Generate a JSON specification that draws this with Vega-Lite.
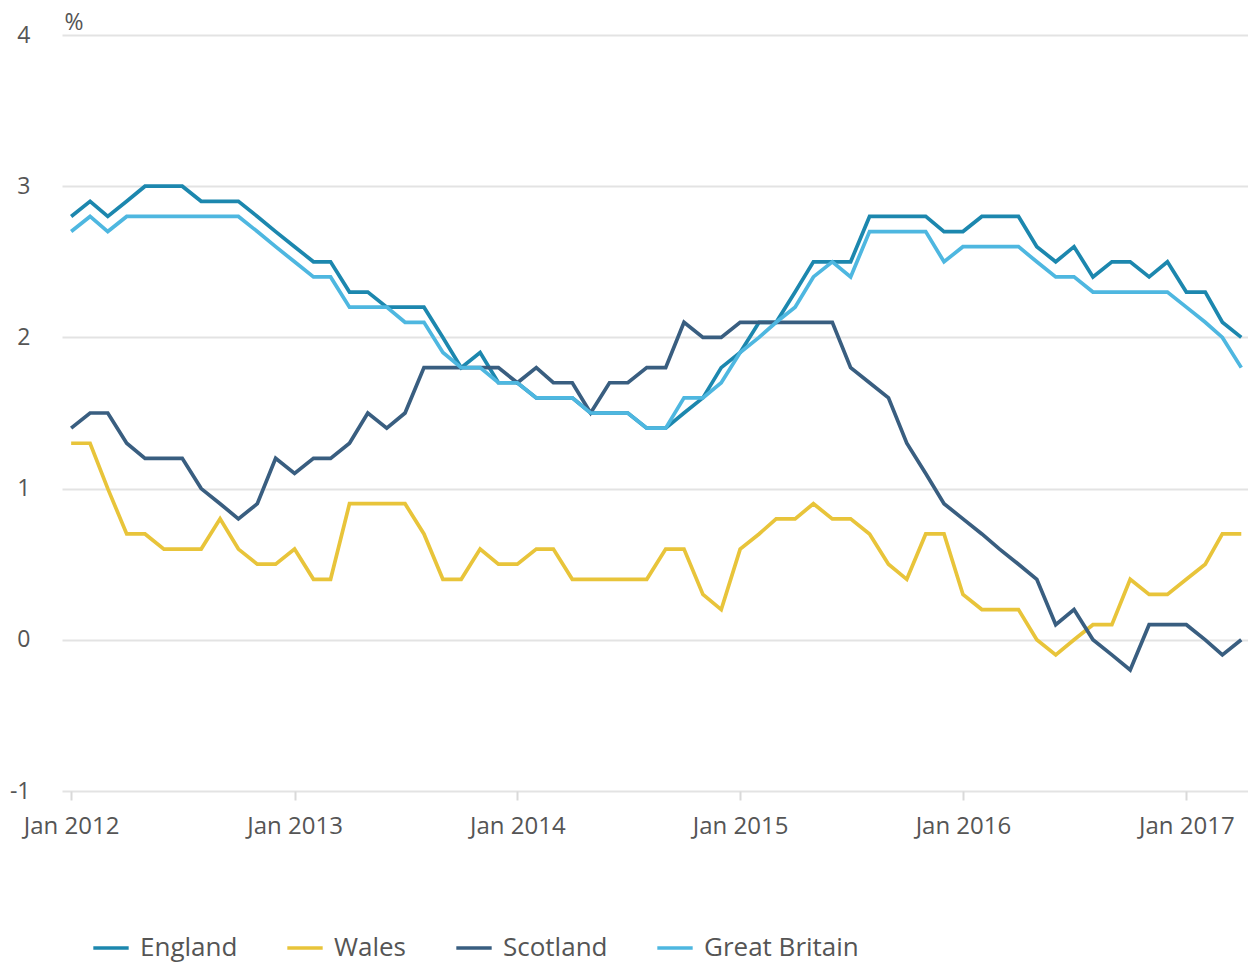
{
  "$schema": "https://vega.github.io/schema/vega-lite/v6.json",
  "autosize": {"type": "none"},
  "width": 1186,
  "height": 756,
  "padding": {"left": 62, "top": 35, "right": 0, "bottom": 174},
  "background": "white",
  "config": {
    "view": {"stroke": null},
    "font": "Open Sans",
    "axis": {"labelFont": "Open Sans", "titleFont": "Open Sans"},
    "legend": {"labelFont": "Open Sans"}
  },
  "data": {
    "values": [
      {"date": "2012-01-01", "England": 2.8, "Wales": 1.3, "Scotland": 1.4, "Great Britain": 2.7},
      {"date": "2012-02-01", "England": 2.9, "Wales": 1.3, "Scotland": 1.5, "Great Britain": 2.8},
      {"date": "2012-03-01", "England": 2.8, "Wales": 1.0, "Scotland": 1.5, "Great Britain": 2.7},
      {"date": "2012-04-01", "England": 2.9, "Wales": 0.7, "Scotland": 1.3, "Great Britain": 2.8},
      {"date": "2012-05-01", "England": 3.0, "Wales": 0.7, "Scotland": 1.2, "Great Britain": 2.8},
      {"date": "2012-06-01", "England": 3.0, "Wales": 0.6, "Scotland": 1.2, "Great Britain": 2.8},
      {"date": "2012-07-01", "England": 3.0, "Wales": 0.6, "Scotland": 1.2, "Great Britain": 2.8},
      {"date": "2012-08-01", "England": 2.9, "Wales": 0.6, "Scotland": 1.0, "Great Britain": 2.8},
      {"date": "2012-09-01", "England": 2.9, "Wales": 0.8, "Scotland": 0.9, "Great Britain": 2.8},
      {"date": "2012-10-01", "England": 2.9, "Wales": 0.6, "Scotland": 0.8, "Great Britain": 2.8},
      {"date": "2012-11-01", "England": 2.8, "Wales": 0.5, "Scotland": 0.9, "Great Britain": 2.7},
      {"date": "2012-12-01", "England": 2.7, "Wales": 0.5, "Scotland": 1.2, "Great Britain": 2.6},
      {"date": "2013-01-01", "England": 2.6, "Wales": 0.6, "Scotland": 1.1, "Great Britain": 2.5},
      {"date": "2013-02-01", "England": 2.5, "Wales": 0.4, "Scotland": 1.2, "Great Britain": 2.4},
      {"date": "2013-03-01", "England": 2.5, "Wales": 0.4, "Scotland": 1.2, "Great Britain": 2.4},
      {"date": "2013-04-01", "England": 2.3, "Wales": 0.9, "Scotland": 1.3, "Great Britain": 2.2},
      {"date": "2013-05-01", "England": 2.3, "Wales": 0.9, "Scotland": 1.5, "Great Britain": 2.2},
      {"date": "2013-06-01", "England": 2.2, "Wales": 0.9, "Scotland": 1.4, "Great Britain": 2.2},
      {"date": "2013-07-01", "England": 2.2, "Wales": 0.9, "Scotland": 1.5, "Great Britain": 2.1},
      {"date": "2013-08-01", "England": 2.2, "Wales": 0.7, "Scotland": 1.8, "Great Britain": 2.1},
      {"date": "2013-09-01", "England": 2.0, "Wales": 0.4, "Scotland": 1.8, "Great Britain": 1.9},
      {"date": "2013-10-01", "England": 1.8, "Wales": 0.4, "Scotland": 1.8, "Great Britain": 1.8},
      {"date": "2013-11-01", "England": 1.9, "Wales": 0.6, "Scotland": 1.8, "Great Britain": 1.8},
      {"date": "2013-12-01", "England": 1.7, "Wales": 0.5, "Scotland": 1.8, "Great Britain": 1.7},
      {"date": "2014-01-01", "England": 1.7, "Wales": 0.5, "Scotland": 1.7, "Great Britain": 1.7},
      {"date": "2014-02-01", "England": 1.6, "Wales": 0.6, "Scotland": 1.8, "Great Britain": 1.6},
      {"date": "2014-03-01", "England": 1.6, "Wales": 0.6, "Scotland": 1.7, "Great Britain": 1.6},
      {"date": "2014-04-01", "England": 1.6, "Wales": 0.4, "Scotland": 1.7, "Great Britain": 1.6},
      {"date": "2014-05-01", "England": 1.5, "Wales": 0.4, "Scotland": 1.5, "Great Britain": 1.5},
      {"date": "2014-06-01", "England": 1.5, "Wales": 0.4, "Scotland": 1.7, "Great Britain": 1.5},
      {"date": "2014-07-01", "England": 1.5, "Wales": 0.4, "Scotland": 1.7, "Great Britain": 1.5},
      {"date": "2014-08-01", "England": 1.4, "Wales": 0.4, "Scotland": 1.8, "Great Britain": 1.4},
      {"date": "2014-09-01", "England": 1.4, "Wales": 0.6, "Scotland": 1.8, "Great Britain": 1.4},
      {"date": "2014-10-01", "England": 1.5, "Wales": 0.6, "Scotland": 2.1, "Great Britain": 1.6},
      {"date": "2014-11-01", "England": 1.6, "Wales": 0.3, "Scotland": 2.0, "Great Britain": 1.6},
      {"date": "2014-12-01", "England": 1.8, "Wales": 0.2, "Scotland": 2.0, "Great Britain": 1.7},
      {"date": "2015-01-01", "England": 1.9, "Wales": 0.6, "Scotland": 2.1, "Great Britain": 1.9},
      {"date": "2015-02-01", "England": 2.1, "Wales": 0.7, "Scotland": 2.1, "Great Britain": 2.0},
      {"date": "2015-03-01", "England": 2.1, "Wales": 0.8, "Scotland": 2.1, "Great Britain": 2.1},
      {"date": "2015-04-01", "England": 2.3, "Wales": 0.8, "Scotland": 2.1, "Great Britain": 2.2},
      {"date": "2015-05-01", "England": 2.5, "Wales": 0.9, "Scotland": 2.1, "Great Britain": 2.4},
      {"date": "2015-06-01", "England": 2.5, "Wales": 0.8, "Scotland": 2.1, "Great Britain": 2.5},
      {"date": "2015-07-01", "England": 2.5, "Wales": 0.8, "Scotland": 1.8, "Great Britain": 2.4},
      {"date": "2015-08-01", "England": 2.8, "Wales": 0.7, "Scotland": 1.7, "Great Britain": 2.7},
      {"date": "2015-09-01", "England": 2.8, "Wales": 0.5, "Scotland": 1.6, "Great Britain": 2.7},
      {"date": "2015-10-01", "England": 2.8, "Wales": 0.4, "Scotland": 1.3, "Great Britain": 2.7},
      {"date": "2015-11-01", "England": 2.8, "Wales": 0.7, "Scotland": 1.1, "Great Britain": 2.7},
      {"date": "2015-12-01", "England": 2.7, "Wales": 0.7, "Scotland": 0.9, "Great Britain": 2.5},
      {"date": "2016-01-01", "England": 2.7, "Wales": 0.3, "Scotland": 0.8, "Great Britain": 2.6},
      {"date": "2016-02-01", "England": 2.8, "Wales": 0.2, "Scotland": 0.7, "Great Britain": 2.6},
      {"date": "2016-03-01", "England": 2.8, "Wales": 0.2, "Scotland": 0.6, "Great Britain": 2.6},
      {"date": "2016-04-01", "England": 2.8, "Wales": 0.2, "Scotland": 0.5, "Great Britain": 2.6},
      {"date": "2016-05-01", "England": 2.6, "Wales": 0.0, "Scotland": 0.4, "Great Britain": 2.5},
      {"date": "2016-06-01", "England": 2.5, "Wales": -0.1, "Scotland": 0.1, "Great Britain": 2.4},
      {"date": "2016-07-01", "England": 2.6, "Wales": 0.0, "Scotland": 0.2, "Great Britain": 2.4},
      {"date": "2016-08-01", "England": 2.4, "Wales": 0.1, "Scotland": 0.0, "Great Britain": 2.3},
      {"date": "2016-09-01", "England": 2.5, "Wales": 0.1, "Scotland": -0.1, "Great Britain": 2.3},
      {"date": "2016-10-01", "England": 2.5, "Wales": 0.4, "Scotland": -0.2, "Great Britain": 2.3},
      {"date": "2016-11-01", "England": 2.4, "Wales": 0.3, "Scotland": 0.1, "Great Britain": 2.3},
      {"date": "2016-12-01", "England": 2.5, "Wales": 0.3, "Scotland": 0.1, "Great Britain": 2.3},
      {"date": "2017-01-01", "England": 2.3, "Wales": 0.4, "Scotland": 0.1, "Great Britain": 2.2},
      {"date": "2017-02-01", "England": 2.3, "Wales": 0.5, "Scotland": 0.0, "Great Britain": 2.1},
      {"date": "2017-03-01", "England": 2.1, "Wales": 0.7, "Scotland": -0.1, "Great Britain": 2.0},
      {"date": "2017-04-01", "England": 2.0, "Wales": 0.7, "Scotland": 0.0, "Great Britain": 1.8}
    ]
  },
  "transform": [
    {"fold": ["England", "Wales", "Scotland", "Great Britain"], "as": ["region", "value"]}
  ],
  "mark": {"type": "line", "strokeWidth": 3.7, "strokeJoin": "miter"},
  "encoding": {
    "x": {
      "field": "date",
      "type": "temporal",
      "scale": {
        "type": "utc",
        "domain": [
          {"year": 2011, "month": 12, "date": 17, "utc": true},
          {"year": 2017, "month": 4, "date": 12, "utc": true}
        ]
      },
      "axis": {
        "title": null,
        "labelExpr": "utcFormat(datum.value, '%b %Y')",
        "tickCount": {"interval": "year", "step": 1},
        "grid": false,
        "domain": false,
        "ticks": true,
        "tickSize": 9,
        "tickWidth": 2,
        "tickColor": "#d9d9d9",
        "labelFontSize": 24,
        "labelColor": "#555555",
        "labelPadding": 14,
        "labelFlush": false
      }
    },
    "y": {
      "field": "value",
      "type": "quantitative",
      "scale": {"domain": [-1, 4], "nice": false, "zero": false},
      "axis": {
        "title": "%",
        "titleAngle": 0,
        "titleAlign": "left",
        "titleBaseline": "alphabetic",
        "titleX": 2,
        "titleY": -6,
        "titleFontSize": 23,
        "titleFontWeight": "normal",
        "titleColor": "#555555",
        "values": [-1, 0, 1, 2, 3, 4],
        "labelExpr": "datum.value + ''",
        "grid": true,
        "gridColor": "#e3e3e3",
        "gridWidth": 2,
        "domain": false,
        "ticks": false,
        "labelFontSize": 23,
        "labelColor": "#555555",
        "labelPadding": 32,
        "labelAlign": "right"
      }
    },
    "color": {
      "field": "region",
      "type": "nominal",
      "scale": {
        "domain": ["England", "Wales", "Scotland", "Great Britain"],
        "range": ["#1c87ae", "#e8c43a", "#395e80", "#4eb7e0"]
      },
      "legend": {
        "title": null,
        "orient": "none",
        "direction": "horizontal",
        "legendX": 29,
        "legendY": 893,
        "symbolType": "stroke",
        "symbolSize": 1250,
        "symbolStrokeWidth": 3.7,
        "labelFontSize": 26,
        "labelColor": "#555555",
        "labelOffset": 9,
        "columnPadding": 41,
        "labelLimit": 300
      }
    }
  }
}
